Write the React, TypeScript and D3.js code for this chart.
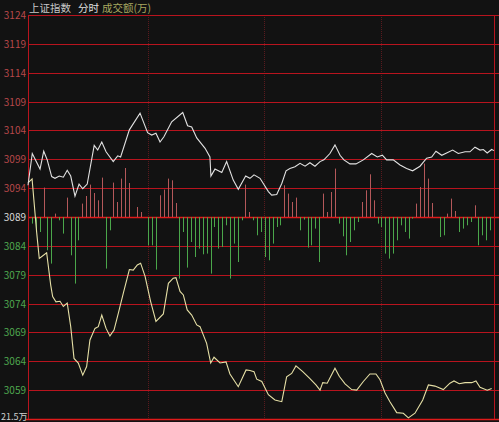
import React from "react";
import * as d3 from "d3";

const W = 499;
const H = 422;

// price levels (left axis)
const priceTicks = [3124, 3119, 3114, 3109, 3104, 3099, 3094, 3089, 3084, 3079, 3074, 3069, 3064, 3059];
const prevClose = 3089;
const volLabel = "21.5万";
const gridMinutes = [62, 121.5, 182];

// white line: [minute, price]
const indexLine: [number, number][] = [
  [0, 3094.5], [2.2, 3100.0], [6.2, 3097.3], [8.1, 3100.4], [9.9, 3098.9], [12.2, 3096.0], [13.9, 3095.7],
  [16.1, 3096.1], [18.2, 3095.9], [20.2, 3097.1], [22.0, 3096.1], [24.2, 3092.6], [26.3, 3094.7], [28.2, 3093.9],
  [30.5, 3094.7], [34.1, 3101.4], [35.9, 3100.6], [38.0, 3102.0], [40.2, 3100.3], [43.9, 3098.6], [46.2, 3099.6],
  [47.7, 3099.4], [52.2, 3104.1], [57.7, 3107.0], [61.6, 3103.6], [63.7, 3103.2], [65.9, 3103.5], [68.0, 3102.0],
  [70.0, 3102.9], [74.0, 3105.5], [79.7, 3107.1], [82.2, 3104.8], [84.3, 3104.6], [86.9, 3102.7], [91.2, 3100.9],
  [93.7, 3099.4], [94.2, 3096.1], [96.3, 3097.3], [99.8, 3096.7], [102.3, 3098.6], [105.7, 3095.4], [108.3, 3093.8],
  [112.1, 3096.1], [114.3, 3095.7], [116.4, 3096.3], [119.5, 3095.7], [123.8, 3093.4], [125.5, 3092.8], [128.1, 3092.9],
  [130.7, 3094.8], [132.9, 3097.0], [134.9, 3097.4], [137.5, 3097.7], [140.1, 3098.3], [142.7, 3097.8], [145.2, 3098.4],
  [147.8, 3097.8], [150.4, 3098.6], [152.4, 3098.9], [155.5, 3100.0], [158.1, 3101.5], [160.7, 3099.7], [162.7, 3098.9],
  [165.8, 3098.2], [168.9, 3098.2], [172.7, 3098.9], [177.0, 3100.0], [179.9, 3099.4], [182.5, 3099.7], [184.7, 3098.9],
  [188.1, 3098.9], [191.6, 3098.0], [195.0, 3097.4], [198.1, 3097.0], [201.9, 3097.8], [205.3, 3099.2], [207.9, 3099.4],
  [210.1, 3100.4], [213.1, 3099.7], [215.6, 3100.1], [218.7, 3100.6], [221.6, 3100.0], [225.1, 3100.3], [227.6, 3100.3],
  [230.2, 3101.1], [232.8, 3100.6], [234.5, 3100.7], [236.5, 3100.1], [238.8, 3100.7], [240, 3100.5],
];

// yellow line: [minute, price]
const secondLine: [number, number][] = [
  [0, 3094.9], [2.1, 3095.6], [4.5, 3086.2], [5.8, 3081.8], [9.6, 3082.8], [11.7, 3077.2], [12.7, 3075.2],
  [14.4, 3074.3], [16.5, 3074.4], [18.2, 3073.5], [20.2, 3074.1], [22.0, 3070.0], [23.7, 3064.5], [25.9, 3063.7],
  [28.2, 3061.6], [30.2, 3063.1], [31.9, 3067.7], [34.5, 3069.7], [36.2, 3070.0], [38.0, 3072.0], [40.2, 3069.7],
  [42.2, 3068.4], [44.3, 3069.4], [46.5, 3072.3], [49.1, 3075.8], [52.2, 3079.9], [54.2, 3079.8], [56.3, 3080.7],
  [58.0, 3081.0], [60.3, 3078.7], [63.2, 3074.3], [65.9, 3070.9], [69.7, 3072.2], [72.3, 3077.5], [74.8, 3078.4],
  [76.2, 3078.5], [78.3, 3076.1], [80.0, 3075.5], [82.0, 3072.9], [84.3, 3072.0], [86.9, 3070.3], [88.6, 3070.0],
  [92.0, 3067.1], [94.1, 3063.7], [95.8, 3064.7], [98.9, 3063.7], [102.0, 3063.9], [104.0, 3061.8], [108.3, 3059.6],
  [112.3, 3062.5], [114.3, 3062.4], [116.4, 3062.2], [117.8, 3060.9], [120.4, 3060.5], [123.8, 3058.2], [127.2, 3057.3],
  [130.7, 3057.0], [133.2, 3061.3], [135.8, 3061.9], [138.0, 3063.2], [141.5, 3062.2], [145.2, 3061.0], [148.3, 3059.9],
  [150.4, 3059.0], [151.8, 3060.3], [154.1, 3060.2], [158.1, 3062.8], [160.3, 3061.4], [163.3, 3060.1], [166.7, 3059.1],
  [169.3, 3059.0], [172.7, 3060.5], [176.1, 3061.8], [179.2, 3061.8], [181.3, 3060.8], [183.9, 3058.5], [186.4, 3057.0],
  [189.9, 3055.1], [193.3, 3055.0], [195.9, 3054.2], [199.3, 3055.0], [203.3, 3057.3], [206.2, 3059.9], [209.6, 3059.7],
  [213.9, 3059.1], [217.3, 3060.2], [219.4, 3060.6], [222.1, 3060.1], [225.1, 3060.3], [228.5, 3060.3], [230.7, 3060.6],
  [232.8, 3059.5], [236.5, 3059.0], [238.8, 3059.3],
];

// bars: [bar index (2-minute slot), signed amount]
const bars: [number, number][] = [
  [0, -6.6], [1, -15], [2, -15], [3, 29.4], [4, -33.3], [5, -46.6], [6, 3.4], [7, -3.3], [8, -16.6], [9, 19.4],
  [10, -38.3], [11, -66.6], [12, -23.3], [13, 13.4], [14, 21], [15, 32.4], [16, 24], [17, 16.7], [18, 39.4],
  [19, -51.6], [20, -13.3], [21, 34.4], [22, 15], [23, 38.4], [24, 49], [25, 34], [27, 10], [28, 5],
  [30, -28.3], [31, -28.3], [32, -52.6], [33, 21.7], [34, 27.4], [35, 38.4], [36, 36.7], [37, 14],
  [38, -61.6], [39, -15], [40, -50.6], [41, -25], [42, -40], [43, -31.6], [44, -37.3], [45, -36.6], [46, -56.6],
  [47, -10], [48, -31.6], [49, -30], [50, -8.3], [51, -61.6], [52, -26.6], [53, -45], [54, -3.3], [55, 32.4],
  [56, 5], [57, -3.3], [58, -18.3], [59, -15], [60, -40], [61, -43.3], [62, -26.6], [63, -10], [64, -8.3],
  [65, 31.7], [66, 23.4], [67, 15], [68, 19.4], [69, -13.3], [70, -2.6], [71, -30.6], [72, -28.3], [73, -11.6],
  [74, -45], [75, 23.4], [76, 5], [77, 25], [78, 48.4], [79, -6.6], [80, -19.3], [81, -38.3], [82, -25],
  [83, -13.3], [84, -5], [85, 15], [86, 26.7], [87, 42.7], [88, 16.7], [89, -6.6], [90, -10], [91, -36.6],
  [92, -41.6], [93, -36.6], [94, -23.3], [95, -8.3], [96, -15], [97, -21.6], [98, -1.6], [99, 13.4], [100, 30],
  [101, 53.4], [102, 38.4], [103, 14], [105, -20], [106, -18.3], [107, 3.4], [108, 18.4], [109, 6], [110, -15],
  [111, -11.6], [112, -8.3], [113, -5], [114, 11.7], [115, -28.3], [116, -18.3], [117, -23.3], [118, -13.3],
];

const BG = "#121212";
const GRID = "#b8141e";
const MID = "#e01a1a";
const FONT = "'Noto Sans CJK SC', 'DejaVu Sans', sans-serif";

export default function App() {
  const x = d3.scaleLinear().domain([0, 240]).range([28, 494]);
  const y = d3.scaleLinear().domain([3054, 3124]).range([419, 15]);
  const barH = d3.scaleLinear().domain([0, 100]).range([0, 100]);
  const baseY = y(prevClose);

  const line = d3
    .line<[number, number]>()
    .x((d) => x(d[0]))
    .y((d) => y(d[1]));

  const labelColor = (v: number) => (v > prevClose ? "#b8484a" : v < prevClose ? "#4fa84f" : "#d8d8d8");

  return (
    <svg
      width={W}
      height={H}
      style={{ position: "absolute", left: 0, top: 0, background: BG, display: "block" }}
    >
      <rect x={0} y={0} width={W} height={H} fill={BG} />
      {/* vertical dotted grid */}
      {gridMinutes.map((m) => (
        <line
          key={m}
          x1={Math.round(x(m)) + 0.5}
          x2={Math.round(x(m)) + 0.5}
          y1={y(3124)}
          y2={y(3054)}
          stroke="#5a1a1e"
          strokeWidth={1}
          strokeDasharray="1,1"
        />
      ))}
      {/* horizontal grid */}
      {priceTicks.map((v) => (
        <line
          key={v}
          x1={28}
          x2={W}
          y1={Math.round(y(v)) + 0.5}
          y2={Math.round(y(v)) + 0.5}
          stroke={v === prevClose ? MID : GRID}
          strokeWidth={v === prevClose ? 1.6 : 1}
        />
      ))}
      <line x1={26} x2={W} y1={Math.round(y(3054)) + 0.5} y2={Math.round(y(3054)) + 0.5} stroke={MID} strokeWidth={1.6} />
      {/* left and right borders */}
      <line x1={28.5} x2={28.5} y1={y(3124)} y2={y(3054)} stroke={GRID} />
      <line x1={494.5} x2={494.5} y1={y(3124)} y2={y(3054)} stroke={GRID} />
      {/* bars */}
      {bars.map(([k, v]) => {
        const bx = Math.round(x(2 * k + 2)) + 0.5;
        return (
          <line
            key={k}
            x1={bx}
            x2={bx}
            y1={baseY}
            y2={v > 0 ? baseY - barH(v) : baseY + barH(-v)}
            stroke={v > 0 ? "#b4585a" : "#4aa64a"}
            strokeWidth={1}
          />
        );
      })}
      {/* lines */}
      <path d={line(secondLine) || ""} fill="none" stroke="#e6e0a6" strokeWidth={1.1} />
      <path d={line(indexLine) || ""} fill="none" stroke="#e2e2e2" strokeWidth={1.1} />
      {/* axis labels */}
      {priceTicks.map((v) => (
        <text
          key={"t" + v}
          x={26}
          y={y(v) + 4}
          textAnchor="end"
          fontSize={10}
          fontFamily={FONT}
          fill={labelColor(v)}
        >
          {v}
        </text>
      ))}
      <text x={1} y={420} fontSize={9} fontFamily={FONT} fill="#d0d0d0">
        {volLabel}
      </text>
      {/* header */}
      <text x={29} y={12} fontSize={10.5} fontFamily={FONT}>
        <tspan fill="#c8c8c8">上证指数</tspan>
        <tspan fill="#e0e0e0" dx={7}>分时</tspan>
        <tspan fill="#a8a860" dx={3}>成交额(万)</tspan>
      </text>
    </svg>
  );
}
